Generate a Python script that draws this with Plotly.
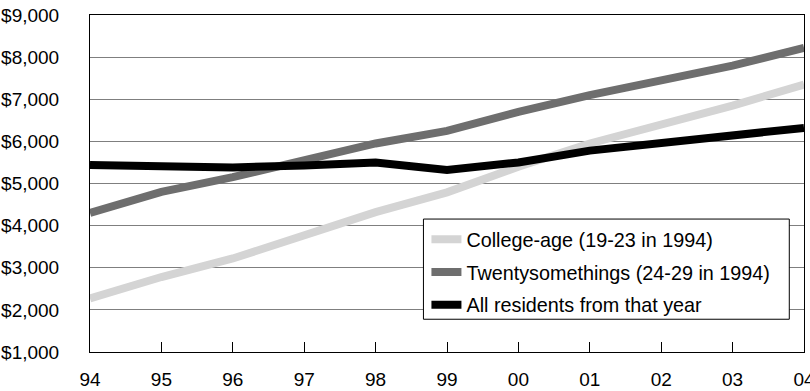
import plotly.graph_objects as go

years = [1994, 1995, 1996, 1997, 1998, 1999, 2000, 2001, 2002, 2003, 2004]
year_labels = ["94", "95", "96", "97", "98", "99", "00", "01", "02", "03", "04"]

college_age = [2270, 2780, 3220, 3760, 4320, 4790, 5400, 5950, 6380, 6850, 7350]
twentysomethings = [4300, 4800, 5150, 5550, 5950, 6250, 6700, 7100, 7450, 7800, 8220]
all_residents = [5440, 5420, 5380, 5430, 5500, 5320, 5500, 5780, 5950, 6120, 6320]

series = [
    ("College-age (19-23 in 1994)", college_age, "#d4d4d4"),
    ("Twentysomethings (24-29 in 1994)", twentysomethings, "#6e6e6e"),
    ("All residents from that year", all_residents, "#000000"),
]

fig = go.Figure()
for name, vals, color in series:
    fig.add_trace(go.Scatter(
        x=years, y=vals, name=name, mode="lines",
        legendgroup=name,
        line=dict(color=color, width=8),
    ))

font_family = "Liberation Sans, Arial, sans-serif"

# framed white panel behind the legend entries; it sits in the lower right
# where no series passes, so it can be drawn over the gridlines
fig.add_shape(
    type="rect", xref="paper", yref="paper",
    x0=0.467, x1=0.9794, y0=0.0972, y1=0.3945,
    fillcolor="white", line=dict(color="#000000", width=1),
    layer="above",
)

fig.update_layout(
    width=810, height=391,
    margin=dict(l=89.5, r=6.3, t=15.3, b=39.3),
    paper_bgcolor="white", plot_bgcolor="white",
    font=dict(family=font_family, size=19, color="#000000"),
    showlegend=True,
    legend=dict(
        x=0.4712, y=0.392, xanchor="left", yanchor="top",
        bgcolor="rgba(0,0,0,0)", borderwidth=0,
        font=dict(size=19.8, family=font_family),
        traceorder="grouped", tracegroupgap=4,
    ),
    xaxis=dict(
        range=[1994, 2004],
        tickvals=years, ticktext=year_labels,
        ticks="inside", ticklen=10, tickcolor="#000000", tickwidth=1,
        showgrid=False, zeroline=False,
        showline=True, linecolor="#000000", linewidth=1, mirror=True,
        ticklabelstandoff=10, ticklabeloverflow="allow",
        automargin=False,
        tickfont=dict(size=19),
    ),
    yaxis=dict(
        range=[1000, 9000], dtick=1000, tick0=1000,
        tickprefix="$", tickformat=",",
        ticks="", showgrid=True, gridcolor="#7f7f7f", gridwidth=1,
        zeroline=False,
        showline=True, linecolor="#000000", linewidth=1, mirror=True,
        ticklabelstandoff=26, ticklabeloverflow="allow",
        automargin=False,
        tickfont=dict(size=19),
    ),
)

fig.write_html("out.html")
